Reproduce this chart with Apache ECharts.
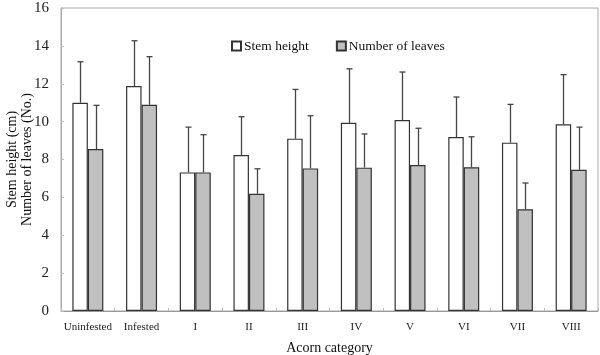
<!DOCTYPE html>
<html><head><meta charset="utf-8">
<script src="https://cdn.jsdelivr.net/npm/echarts@6/dist/echarts.min.js"></script>
<style>html,body{margin:0;padding:0;background:#fff}#c{width:600px;height:355px}</style>
</head><body><div id="c"></div>
<script>
var categories = ['Uninfested','Infested','I','II','III','IV','V','VI','VII','VIII'];
var stemHeight = [11.0, 11.88, 7.32, 8.24, 9.10, 9.94, 10.08, 9.19, 8.89, 9.86];
var stemHeightSD = [2.16, 2.39, 2.39, 2.02, 2.60, 2.85, 2.54, 2.11, 2.02, 2.62];
var leaves = [8.55, 10.89, 7.32, 6.19, 7.53, 7.57, 7.71, 7.59, 5.37, 7.46];
var leavesSD = [2.31, 2.54, 1.99, 1.32, 2.78, 1.78, 1.94, 1.61, 1.39, 2.25];
var yTicks = [0, 2, 4, 6, 8, 10, 12, 14, 16];

var font = 'Liberation Serif';
var chart = echarts.init(document.getElementById('c'));
var GROUP = 0.577; // fraction of category occupied by the bar pair

function errSeries(vals, sds, side) {
  return {
    type: 'custom',
    silent: true,
    z: 1,
    data: vals.map(function (v, i) { return [i, v, v + sds[i]]; }),
    renderItem: function (params, api) {
      var cw = api.size([1, 0])[0];
      var c = api.coord([api.value(0), api.value(1)]);
      var top = api.coord([api.value(0), api.value(2)]);
      var x = Math.round(c[0] + side * cw * GROUP / 4) + 0.5;
      var cap = 3;
      var st = { stroke: '#444', lineWidth: 1.3, fill: null };
      return {
        type: 'group',
        children: [
          { type: 'line', shape: { x1: x, y1: c[1], x2: x, y2: top[1] }, style: st },
          { type: 'line', shape: { x1: x - cap, y1: top[1], x2: x + cap, y2: top[1] }, style: st }
        ]
      };
    }
  };
}

chart.setOption({
  animation: false,
  textStyle: { fontFamily: font },
  grid: { left: 61, right: 2, top: 8, bottom: 44, show: true, borderColor: '#aaa', borderWidth: 1, containLabel: false, outerBoundsMode: 'none' },
  legend: {
    data: ['Stem height', 'Number of leaves'],
    left: 226, top: 34,
    itemWidth: 9, itemHeight: 9, itemGap: 27,
    textStyle: { fontFamily: font, fontSize: 13.5, color: '#111', padding: [0, 0, 0, -2] },
    icon: 'rect'
  },
  xAxis: {
    type: 'category',
    data: categories,
    name: 'Acorn category',
    nameLocation: 'middle',
    nameGap: 30,
    nameMoveOverlap: false,
    nameTextStyle: { fontFamily: font, fontSize: 14, color: '#111' },
    axisLine: { lineStyle: { color: '#999', width: 1 } },
    axisTick: { show: true, inside: true, length: 3, lineStyle: { color: '#bbb' } },
    axisLabel: { fontFamily: font, fontSize: 11, color: '#222', margin: 11, interval: 0 }
  },
  yAxis: {
    type: 'value',
    min: 0, max: 16, interval: 2,
    name: 'Stem height (cm)\nNumber of leaves (No.)',
    nameLocation: 'middle',
    nameGap: 26,
    nameMoveOverlap: false,
    nameRotate: 90,
    nameTextStyle: { fontFamily: font, fontSize: 14, color: '#111', lineHeight: 15 },
    axisLine: { show: true, lineStyle: { color: '#aaa', width: 1 } },
    axisTick: { show: true, inside: true, length: 3, lineStyle: { color: '#bbb' } },
    splitLine: { show: false },
    axisLabel: {
      fontFamily: font, fontSize: 15, color: '#222', margin: 12,
      formatter: function (v) { return yTicks.indexOf(v) >= 0 ? String(v) : ''; }
    }
  },
  series: [
    {
      name: 'Stem height', type: 'bar', data: stemHeight,
      barGap: '0%', barCategoryGap: '42.3%',
      itemStyle: { color: '#ffffff', borderColor: '#333', borderWidth: 1.2 },
      z: 2
    },
    {
      name: 'Number of leaves', type: 'bar', data: leaves,
      itemStyle: { color: '#c0c0c0', borderColor: '#333', borderWidth: 1.2 },
      z: 2
    },
    errSeries(stemHeight, stemHeightSD, -1),
    errSeries(leaves, leavesSD, 1)
  ]
});
</script>
</body></html>
